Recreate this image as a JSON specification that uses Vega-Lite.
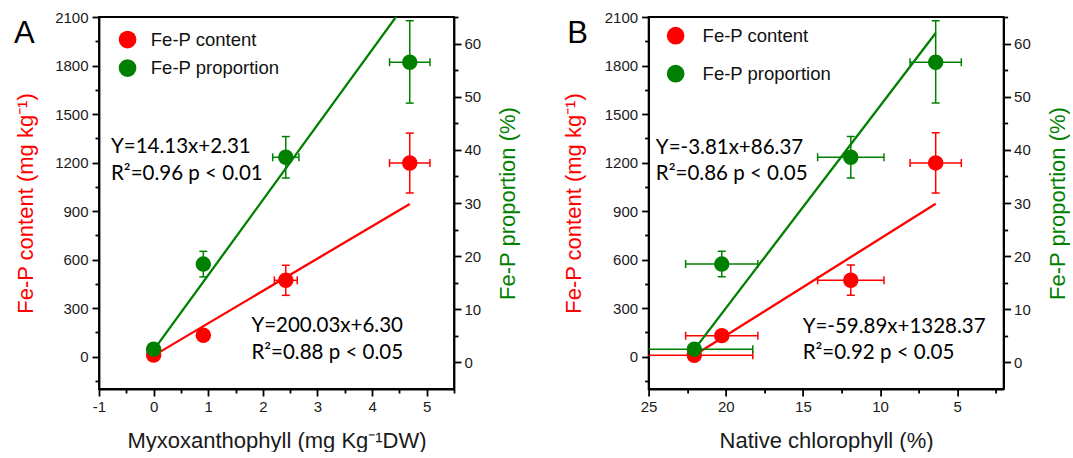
{
  "$schema": "https://vega.github.io/schema/vega-lite/v6.json",
  "background": "white",
  "padding": {"left": 13, "top": 9, "right": 0, "bottom": 0},
  "bounds": "flush",
  "spacing": 194.6,
  "config": {
    "view": {"stroke": "black", "strokeWidth": 1.8},
    "axis": {
      "domainColor": "black", "domainWidth": 1.8, "tickColor": "black", "tickWidth": 1.8,
      "labelFont": "Liberation Sans", "labelFontSize": 15, "labelColor": "#1a1a1a",
      "titleFont": "Liberation Sans", "titleFontSize": 22, "titleFontWeight": "normal",
      "grid": false, "labelFlush": false, "labelOverlap": false
    },
    "legend": {
      "orient": "none", "title": null, "symbolSize": 314, "symbolType": "circle",
      "labelFont": "Liberation Sans", "labelFontSize": 18.5, "labelColor": "#111",
      "padding": 0, "symbolStrokeWidth": 0, "symbolOpacity": 1, "labelLimit": 300
    }
  },
  "datasets": {
    "A_content": [
      {"x": 0, "xlo": 0, "xhi": 0, "c": 10, "clo": 10, "chi": 10, "series": "Fe-P content"},
      {"x": 0.91, "xlo": 0.91, "xhi": 0.91, "c": 132, "clo": 132, "chi": 132, "series": "Fe-P content"},
      {"x": 2.42, "xlo": 2.21, "xhi": 2.63, "c": 472, "clo": 379, "chi": 565, "series": "Fe-P content"},
      {"x": 4.69, "xlo": 4.32, "xhi": 5.06, "c": 1197, "clo": 1012, "chi": 1382, "series": "Fe-P content"}
    ],
    "A_prop": [
      {"x": 0, "xlo": 0, "xhi": 0, "p": 2.5, "plo": 2.5, "phi": 2.5, "series": "Fe-P proportion"},
      {"x": 0.91, "xlo": 0.91, "xhi": 0.91, "p": 18.5, "plo": 16.1, "phi": 20.9, "series": "Fe-P proportion"},
      {"x": 2.42, "xlo": 2.18, "xhi": 2.66, "p": 38.6, "plo": 34.7, "phi": 42.5, "series": "Fe-P proportion"},
      {"x": 4.69, "xlo": 4.32, "xhi": 5.06, "p": 56.5, "plo": 48.8, "phi": 64.3, "series": "Fe-P proportion"}
    ],
    "A_cline": [{"x": 0, "c": 6.3}, {"x": 4.69, "c": 944.4}],
    "A_pline": [{"x": 0, "p": 2.31}, {"x": 4.69, "p": 68.58}],
    "A_text": [
      {"x": -0.78, "c": 1297, "label": "Y=14.13x+2.31"},
      {"x": -0.78, "c": 1128, "label": "R²=0.96  p < 0.01"},
      {"x": 1.79, "c": 189, "label": "Y=200.03x+6.30"},
      {"x": 1.79, "c": 25, "label": "R²=0.88  p < 0.05"}
    ],
    "A_letter": [{"x": -2.557, "c": 1939, "label": "A"}],
    "B_content": [
      {"x": 22.04, "xlo": 18.25, "xhi": 25.83, "c": 8, "clo": 8, "chi": 8, "series": "Fe-P content"},
      {"x": 20.26, "xlo": 17.92, "xhi": 22.6, "c": 130, "clo": 130, "chi": 130, "series": "Fe-P content"},
      {"x": 11.9, "xlo": 9.75, "xhi": 14.05, "c": 472, "clo": 379, "chi": 567, "series": "Fe-P content"},
      {"x": 6.4, "xlo": 4.74, "xhi": 8.06, "c": 1198, "clo": 1012, "chi": 1384, "series": "Fe-P content"}
    ],
    "B_prop": [
      {"x": 22.04, "xlo": 18.25, "xhi": 25.83, "p": 2.5, "plo": 2.5, "phi": 2.5, "series": "Fe-P proportion"},
      {"x": 20.26, "xlo": 17.92, "xhi": 22.6, "p": 18.5, "plo": 16.1, "phi": 20.9, "series": "Fe-P proportion"},
      {"x": 11.9, "xlo": 9.75, "xhi": 14.05, "p": 38.6, "plo": 34.7, "phi": 42.5, "series": "Fe-P proportion"},
      {"x": 6.4, "xlo": 4.74, "xhi": 8.06, "p": 56.5, "plo": 48.8, "phi": 64.3, "series": "Fe-P proportion"}
    ],
    "B_cline": [{"x": 22.04, "c": 8.4}, {"x": 6.4, "c": 945}],
    "B_pline": [{"x": 22.04, "p": 2.4}, {"x": 6.4, "p": 62}],
    "B_text": [
      {"x": 24.53, "c": 1293, "label": "Y=-3.81x+86.37"},
      {"x": 24.53, "c": 1128, "label": "R²=0.86  p < 0.05"},
      {"x": 15.02, "c": 186, "label": "Y=-59.89x+1328.37"},
      {"x": 15.02, "c": 21, "label": "R²=0.92  p < 0.05"}
    ],
    "B_letter": [{"x": 30.27, "c": 1939, "label": "B"}]
  },
  "resolve": {"scale": {"color": "independent"}, "legend": {"color": "independent"}},
  "hconcat": [
    {
      "width": 355, "height": 372,
      "resolve": {"scale": {"y": "independent"}, "axis": {"x": "independent"}},
      "layer": [
        {
          "resolve": {"axis": {"y": "independent"}},
          "layer": [
            {"data": {"name": "A_cline"}, "mark": {"type": "line", "color": "#ff0000", "strokeWidth": 2.3, "clip": true},
             "encoding": {"x": {"field": "x", "type": "quantitative", "scale": {"domain": [-1, 5.5], "nice": false, "zero": false}},
                          "y": {"field": "c", "type": "quantitative", "scale": {"domain": [-200, 2100], "nice": false, "zero": false},
                                "axis": {"orient": "left", "values": [-150, 150, 450, 750, 1050, 1350, 1650, 1950], "labels": false, "domain": false, "tickSize": 4, "title": null}}}},
            {"data": {"name": "A_content"}, "mark": {"type": "rule", "color": "#ff0000", "strokeWidth": 1.5, "clip": true},
             "encoding": {"x": {"field": "xlo", "type": "quantitative", "scale": {"domain": [-1, 5.5], "nice": false, "zero": false}}, "x2": {"field": "xhi"},
                          "y": {"field": "c", "type": "quantitative", "scale": {"domain": [-200, 2100], "nice": false, "zero": false}, "axis": null}}},
            {"data": {"name": "A_content"}, "mark": {"type": "rule", "color": "#ff0000", "strokeWidth": 1.5, "clip": true},
             "encoding": {"x": {"field": "x", "type": "quantitative", "scale": {"domain": [-1, 5.5], "nice": false, "zero": false}},
                          "y": {"field": "clo", "type": "quantitative", "scale": {"domain": [-200, 2100], "nice": false, "zero": false}, "axis": null}, "y2": {"field": "chi"}}},
            {"data": {"name": "A_content"}, "mark": {"type": "tick", "orient": "vertical", "color": "#ff0000", "size": 8, "thickness": 1.5, "opacity": 1, "clip": true},
             "encoding": {"x": {"field": "xlo", "type": "quantitative", "scale": {"domain": [-1, 5.5], "nice": false, "zero": false}},
                          "y": {"field": "c", "type": "quantitative", "scale": {"domain": [-200, 2100], "nice": false, "zero": false}, "axis": null}}},
            {"data": {"name": "A_content"}, "mark": {"type": "tick", "orient": "vertical", "color": "#ff0000", "size": 8, "thickness": 1.5, "opacity": 1, "clip": true},
             "encoding": {"x": {"field": "xhi", "type": "quantitative", "scale": {"domain": [-1, 5.5], "nice": false, "zero": false}},
                          "y": {"field": "c", "type": "quantitative", "scale": {"domain": [-200, 2100], "nice": false, "zero": false}, "axis": null}}},
            {"data": {"name": "A_content"}, "mark": {"type": "tick", "orient": "horizontal", "color": "#ff0000", "size": 8, "thickness": 1.5, "opacity": 1, "clip": true},
             "encoding": {"x": {"field": "x", "type": "quantitative", "scale": {"domain": [-1, 5.5], "nice": false, "zero": false}},
                          "y": {"field": "clo", "type": "quantitative", "scale": {"domain": [-200, 2100], "nice": false, "zero": false}, "axis": null}}},
            {"data": {"name": "A_content"}, "mark": {"type": "tick", "orient": "horizontal", "color": "#ff0000", "size": 8, "thickness": 1.5, "opacity": 1, "clip": true},
             "encoding": {"x": {"field": "x", "type": "quantitative", "scale": {"domain": [-1, 5.5], "nice": false, "zero": false}},
                          "y": {"field": "chi", "type": "quantitative", "scale": {"domain": [-200, 2100], "nice": false, "zero": false}, "axis": null}}},
            {"data": {"name": "A_content"}, "mark": {"type": "circle", "size": 240, "opacity": 1},
             "encoding": {
               "x": {"field": "x", "type": "quantitative", "scale": {"domain": [-1, 5.5], "nice": false, "zero": false},
                     "axis": {"orient": "bottom", "title": "Myxoxanthophyll (mg Kg⁻¹DW)", "titleColor": "#1a1a1a", "values": [-1, 0, 1, 2, 3, 4, 5],
                              "labelExpr": "'' + datum.value", "tickSize": 7, "labelPadding": 3, "titlePadding": 16}},
               "y": {"field": "c", "type": "quantitative", "scale": {"domain": [-200, 2100], "nice": false, "zero": false},
                     "axis": {"orient": "left", "title": "Fe-P content (mg kg⁻¹)", "titleColor": "#ff0000",
                              "values": [0, 300, 600, 900, 1200, 1500, 1800, 2100],
                              "labelExpr": "'' + datum.value", "tickSize": 7, "labelPadding": 4, "titlePadding": 17}},
               "color": {"field": "series", "type": "nominal", "scale": {"domain": ["Fe-P content", "Fe-P proportion"], "range": ["#ff0000", "#008000"]},
                         "legend": {"legendX": 19.3, "legendY": 13.3, "labelOffset": 14, "rowPadding": 9.5}}
             }},
            {"data": {"name": "A_text"}, "mark": {"type": "text", "align": "left", "baseline": "middle", "font": "Lato", "fontSize": 20.5, "color": "#000"},
             "encoding": {"x": {"field": "x", "type": "quantitative", "scale": {"domain": [-1, 5.5], "nice": false, "zero": false}},
                          "y": {"field": "c", "type": "quantitative", "scale": {"domain": [-200, 2100], "nice": false, "zero": false}, "axis": null},
                          "text": {"field": "label"}}},
            {"data": {"name": "A_letter"}, "mark": {"type": "text", "align": "left", "baseline": "alphabetic", "font": "Liberation Sans", "fontSize": 31, "color": "#000"},
             "encoding": {"x": {"field": "x", "type": "quantitative", "scale": {"domain": [-1, 5.5], "nice": false, "zero": false}},
                          "y": {"field": "c", "type": "quantitative", "scale": {"domain": [-200, 2100], "nice": false, "zero": false}, "axis": null},
                          "text": {"field": "label"}}}
          ]
        },
        {
          "resolve": {"axis": {"y": "independent"}},
          "layer": [
            {"data": {"name": "A_pline"}, "mark": {"type": "line", "color": "#008000", "strokeWidth": 2.3, "clip": true},
             "encoding": {"x": {"field": "x", "type": "quantitative", "scale": {"domain": [-1, 5.5], "nice": false, "zero": false}},
                          "y": {"field": "p", "type": "quantitative", "scale": {"domain": [-5, 65], "nice": false, "zero": false},
                                "axis": {"orient": "right", "values": [5, 15, 25, 35, 45, 55, 65], "labels": false, "domain": false, "tickSize": 4, "title": null}}}},
            {"data": {"name": "A_prop"}, "mark": {"type": "rule", "color": "#008000", "strokeWidth": 1.5, "clip": true},
             "encoding": {"x": {"field": "xlo", "type": "quantitative", "scale": {"domain": [-1, 5.5], "nice": false, "zero": false}}, "x2": {"field": "xhi"},
                          "y": {"field": "p", "type": "quantitative", "scale": {"domain": [-5, 65], "nice": false, "zero": false}, "axis": null}}},
            {"data": {"name": "A_prop"}, "mark": {"type": "rule", "color": "#008000", "strokeWidth": 1.5, "clip": true},
             "encoding": {"x": {"field": "x", "type": "quantitative", "scale": {"domain": [-1, 5.5], "nice": false, "zero": false}},
                          "y": {"field": "plo", "type": "quantitative", "scale": {"domain": [-5, 65], "nice": false, "zero": false}, "axis": null}, "y2": {"field": "phi"}}},
            {"data": {"name": "A_prop"}, "mark": {"type": "tick", "orient": "vertical", "color": "#008000", "size": 8, "thickness": 1.5, "opacity": 1, "clip": true},
             "encoding": {"x": {"field": "xlo", "type": "quantitative", "scale": {"domain": [-1, 5.5], "nice": false, "zero": false}},
                          "y": {"field": "p", "type": "quantitative", "scale": {"domain": [-5, 65], "nice": false, "zero": false}, "axis": null}}},
            {"data": {"name": "A_prop"}, "mark": {"type": "tick", "orient": "vertical", "color": "#008000", "size": 8, "thickness": 1.5, "opacity": 1, "clip": true},
             "encoding": {"x": {"field": "xhi", "type": "quantitative", "scale": {"domain": [-1, 5.5], "nice": false, "zero": false}},
                          "y": {"field": "p", "type": "quantitative", "scale": {"domain": [-5, 65], "nice": false, "zero": false}, "axis": null}}},
            {"data": {"name": "A_prop"}, "mark": {"type": "tick", "orient": "horizontal", "color": "#008000", "size": 8, "thickness": 1.5, "opacity": 1, "clip": true},
             "encoding": {"x": {"field": "x", "type": "quantitative", "scale": {"domain": [-1, 5.5], "nice": false, "zero": false}},
                          "y": {"field": "plo", "type": "quantitative", "scale": {"domain": [-5, 65], "nice": false, "zero": false}, "axis": null}}},
            {"data": {"name": "A_prop"}, "mark": {"type": "tick", "orient": "horizontal", "color": "#008000", "size": 8, "thickness": 1.5, "opacity": 1, "clip": true},
             "encoding": {"x": {"field": "x", "type": "quantitative", "scale": {"domain": [-1, 5.5], "nice": false, "zero": false}},
                          "y": {"field": "phi", "type": "quantitative", "scale": {"domain": [-5, 65], "nice": false, "zero": false}, "axis": null}}},
            {"data": {"name": "A_prop"}, "mark": {"type": "circle", "size": 240, "opacity": 1},
             "encoding": {
               "x": {"field": "x", "type": "quantitative", "scale": {"domain": [-1, 5.5], "nice": false, "zero": false},
                     "axis": {"orient": "bottom", "values": [-0.5, 0.5, 1.5, 2.5, 3.5, 4.5, 5.5], "labels": false, "domain": false, "tickSize": 4, "title": null}},
               "y": {"field": "p", "type": "quantitative", "scale": {"domain": [-5, 65], "nice": false, "zero": false},
                     "axis": {"orient": "right", "title": "Fe-P proportion (%)", "titleColor": "#008000", "titleAngle": 270, "titleBaseline": "top",
                              "values": [0, 10, 20, 30, 40, 50, 60], "labelExpr": "'' + datum.value",
                              "tickSize": 7, "labelPadding": 3, "titlePadding": 17}},
               "color": {"field": "series", "type": "nominal", "scale": {"domain": ["Fe-P content", "Fe-P proportion"], "range": ["#ff0000", "#008000"]},
                         "legend": {"legendX": 19.3, "legendY": 13.3, "labelOffset": 14, "rowPadding": 9.5}}
             }}
          ]
        }
      ]
    },
    {
      "width": 355, "height": 372,
      "resolve": {"scale": {"y": "independent"}, "axis": {"x": "independent"}},
      "layer": [
        {
          "resolve": {"axis": {"y": "independent"}},
          "layer": [
            {"data": {"name": "B_cline"}, "mark": {"type": "line", "color": "#ff0000", "strokeWidth": 2.3, "clip": true},
             "encoding": {"x": {"field": "x", "type": "quantitative", "scale": {"domain": [2, 25], "reverse": true, "nice": false, "zero": false}},
                          "y": {"field": "c", "type": "quantitative", "scale": {"domain": [-200, 2100], "nice": false, "zero": false},
                                "axis": {"orient": "left", "values": [-150, 150, 450, 750, 1050, 1350, 1650, 1950], "labels": false, "domain": false, "tickSize": 4, "title": null}}}},
            {"data": {"name": "B_content"}, "mark": {"type": "rule", "color": "#ff0000", "strokeWidth": 1.5, "clip": true},
             "encoding": {"x": {"field": "xlo", "type": "quantitative", "scale": {"domain": [2, 25], "reverse": true, "nice": false, "zero": false}}, "x2": {"field": "xhi"},
                          "y": {"field": "c", "type": "quantitative", "scale": {"domain": [-200, 2100], "nice": false, "zero": false}, "axis": null}}},
            {"data": {"name": "B_content"}, "mark": {"type": "rule", "color": "#ff0000", "strokeWidth": 1.5, "clip": true},
             "encoding": {"x": {"field": "x", "type": "quantitative", "scale": {"domain": [2, 25], "reverse": true, "nice": false, "zero": false}},
                          "y": {"field": "clo", "type": "quantitative", "scale": {"domain": [-200, 2100], "nice": false, "zero": false}, "axis": null}, "y2": {"field": "chi"}}},
            {"data": {"name": "B_content"}, "mark": {"type": "tick", "orient": "vertical", "color": "#ff0000", "size": 8, "thickness": 1.5, "opacity": 1, "clip": true},
             "encoding": {"x": {"field": "xlo", "type": "quantitative", "scale": {"domain": [2, 25], "reverse": true, "nice": false, "zero": false}},
                          "y": {"field": "c", "type": "quantitative", "scale": {"domain": [-200, 2100], "nice": false, "zero": false}, "axis": null}}},
            {"data": {"name": "B_content"}, "mark": {"type": "tick", "orient": "vertical", "color": "#ff0000", "size": 8, "thickness": 1.5, "opacity": 1, "clip": true},
             "encoding": {"x": {"field": "xhi", "type": "quantitative", "scale": {"domain": [2, 25], "reverse": true, "nice": false, "zero": false}},
                          "y": {"field": "c", "type": "quantitative", "scale": {"domain": [-200, 2100], "nice": false, "zero": false}, "axis": null}}},
            {"data": {"name": "B_content"}, "mark": {"type": "tick", "orient": "horizontal", "color": "#ff0000", "size": 8, "thickness": 1.5, "opacity": 1, "clip": true},
             "encoding": {"x": {"field": "x", "type": "quantitative", "scale": {"domain": [2, 25], "reverse": true, "nice": false, "zero": false}},
                          "y": {"field": "clo", "type": "quantitative", "scale": {"domain": [-200, 2100], "nice": false, "zero": false}, "axis": null}}},
            {"data": {"name": "B_content"}, "mark": {"type": "tick", "orient": "horizontal", "color": "#ff0000", "size": 8, "thickness": 1.5, "opacity": 1, "clip": true},
             "encoding": {"x": {"field": "x", "type": "quantitative", "scale": {"domain": [2, 25], "reverse": true, "nice": false, "zero": false}},
                          "y": {"field": "chi", "type": "quantitative", "scale": {"domain": [-200, 2100], "nice": false, "zero": false}, "axis": null}}},
            {"data": {"name": "B_content"}, "mark": {"type": "circle", "size": 240, "opacity": 1},
             "encoding": {
               "x": {"field": "x", "type": "quantitative", "scale": {"domain": [2, 25], "reverse": true, "nice": false, "zero": false},
                     "axis": {"orient": "bottom", "title": "Native chlorophyll (%)", "titleColor": "#1a1a1a", "values": [25, 20, 15, 10, 5],
                              "labelExpr": "'' + datum.value", "tickSize": 7, "labelPadding": 3, "titlePadding": 16}},
               "y": {"field": "c", "type": "quantitative", "scale": {"domain": [-200, 2100], "nice": false, "zero": false},
                     "axis": {"orient": "left", "title": "Fe-P content (mg kg⁻¹)", "titleColor": "#ff0000",
                              "values": [0, 300, 600, 900, 1200, 1500, 1800, 2100],
                              "labelExpr": "'' + datum.value", "tickSize": 7, "labelPadding": 4, "titlePadding": 19}},
               "color": {"field": "series", "type": "nominal", "scale": {"domain": ["Fe-P content", "Fe-P proportion"], "range": ["#ff0000", "#008000"]},
                         "legend": {"legendX": 17.8, "legendY": 9.4, "labelOffset": 17.7, "rowPadding": 19}}
             }},
            {"data": {"name": "B_text"}, "mark": {"type": "text", "align": "left", "baseline": "middle", "font": "Lato", "fontSize": 20.5, "color": "#000"},
             "encoding": {"x": {"field": "x", "type": "quantitative", "scale": {"domain": [2, 25], "reverse": true, "nice": false, "zero": false}},
                          "y": {"field": "c", "type": "quantitative", "scale": {"domain": [-200, 2100], "nice": false, "zero": false}, "axis": null},
                          "text": {"field": "label"}}},
            {"data": {"name": "B_letter"}, "mark": {"type": "text", "align": "left", "baseline": "alphabetic", "font": "Liberation Sans", "fontSize": 31, "color": "#000"},
             "encoding": {"x": {"field": "x", "type": "quantitative", "scale": {"domain": [2, 25], "reverse": true, "nice": false, "zero": false}},
                          "y": {"field": "c", "type": "quantitative", "scale": {"domain": [-200, 2100], "nice": false, "zero": false}, "axis": null},
                          "text": {"field": "label"}}}
          ]
        },
        {
          "resolve": {"axis": {"y": "independent"}},
          "layer": [
            {"data": {"name": "B_pline"}, "mark": {"type": "line", "color": "#008000", "strokeWidth": 2.3, "clip": true},
             "encoding": {"x": {"field": "x", "type": "quantitative", "scale": {"domain": [2, 25], "reverse": true, "nice": false, "zero": false}},
                          "y": {"field": "p", "type": "quantitative", "scale": {"domain": [-5, 65], "nice": false, "zero": false},
                                "axis": {"orient": "right", "values": [5, 15, 25, 35, 45, 55, 65], "labels": false, "domain": false, "tickSize": 4, "title": null}}}},
            {"data": {"name": "B_prop"}, "mark": {"type": "rule", "color": "#008000", "strokeWidth": 1.5, "clip": true},
             "encoding": {"x": {"field": "xlo", "type": "quantitative", "scale": {"domain": [2, 25], "reverse": true, "nice": false, "zero": false}}, "x2": {"field": "xhi"},
                          "y": {"field": "p", "type": "quantitative", "scale": {"domain": [-5, 65], "nice": false, "zero": false}, "axis": null}}},
            {"data": {"name": "B_prop"}, "mark": {"type": "rule", "color": "#008000", "strokeWidth": 1.5, "clip": true},
             "encoding": {"x": {"field": "x", "type": "quantitative", "scale": {"domain": [2, 25], "reverse": true, "nice": false, "zero": false}},
                          "y": {"field": "plo", "type": "quantitative", "scale": {"domain": [-5, 65], "nice": false, "zero": false}, "axis": null}, "y2": {"field": "phi"}}},
            {"data": {"name": "B_prop"}, "mark": {"type": "tick", "orient": "vertical", "color": "#008000", "size": 8, "thickness": 1.5, "opacity": 1, "clip": true},
             "encoding": {"x": {"field": "xlo", "type": "quantitative", "scale": {"domain": [2, 25], "reverse": true, "nice": false, "zero": false}},
                          "y": {"field": "p", "type": "quantitative", "scale": {"domain": [-5, 65], "nice": false, "zero": false}, "axis": null}}},
            {"data": {"name": "B_prop"}, "mark": {"type": "tick", "orient": "vertical", "color": "#008000", "size": 8, "thickness": 1.5, "opacity": 1, "clip": true},
             "encoding": {"x": {"field": "xhi", "type": "quantitative", "scale": {"domain": [2, 25], "reverse": true, "nice": false, "zero": false}},
                          "y": {"field": "p", "type": "quantitative", "scale": {"domain": [-5, 65], "nice": false, "zero": false}, "axis": null}}},
            {"data": {"name": "B_prop"}, "mark": {"type": "tick", "orient": "horizontal", "color": "#008000", "size": 8, "thickness": 1.5, "opacity": 1, "clip": true},
             "encoding": {"x": {"field": "x", "type": "quantitative", "scale": {"domain": [2, 25], "reverse": true, "nice": false, "zero": false}},
                          "y": {"field": "plo", "type": "quantitative", "scale": {"domain": [-5, 65], "nice": false, "zero": false}, "axis": null}}},
            {"data": {"name": "B_prop"}, "mark": {"type": "tick", "orient": "horizontal", "color": "#008000", "size": 8, "thickness": 1.5, "opacity": 1, "clip": true},
             "encoding": {"x": {"field": "x", "type": "quantitative", "scale": {"domain": [2, 25], "reverse": true, "nice": false, "zero": false}},
                          "y": {"field": "phi", "type": "quantitative", "scale": {"domain": [-5, 65], "nice": false, "zero": false}, "axis": null}}},
            {"data": {"name": "B_prop"}, "mark": {"type": "circle", "size": 240, "opacity": 1},
             "encoding": {
               "x": {"field": "x", "type": "quantitative", "scale": {"domain": [2, 25], "reverse": true, "nice": false, "zero": false},
                     "axis": {"orient": "bottom", "values": [22.5, 17.5, 12.5, 7.5, 2.5], "labels": false, "domain": false, "tickSize": 4, "title": null}},
               "y": {"field": "p", "type": "quantitative", "scale": {"domain": [-5, 65], "nice": false, "zero": false},
                     "axis": {"orient": "right", "title": "Fe-P proportion (%)", "titleColor": "#008000", "titleAngle": 270, "titleBaseline": "top",
                              "values": [0, 10, 20, 30, 40, 50, 60], "labelExpr": "'' + datum.value",
                              "tickSize": 7, "labelPadding": 3, "titlePadding": 17}},
               "color": {"field": "series", "type": "nominal", "scale": {"domain": ["Fe-P content", "Fe-P proportion"], "range": ["#ff0000", "#008000"]},
                         "legend": {"legendX": 17.8, "legendY": 9.4, "labelOffset": 17.7, "rowPadding": 19}}
             }}
          ]
        }
      ]
    }
  ]
}
